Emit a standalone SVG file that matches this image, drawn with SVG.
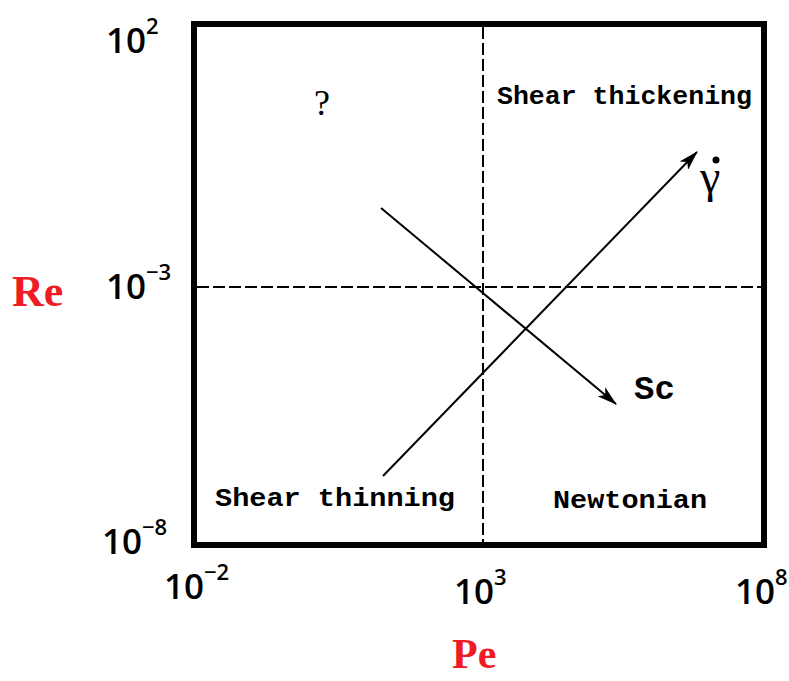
<svg xmlns="http://www.w3.org/2000/svg" width="789" height="681" viewBox="0 0 789 681">
<style>
.tick{font-family:"Open Sans","Liberation Sans",sans-serif;font-size:35px;fill:#000;font-weight:600}
.sup{font-size:22px}
.ax{font-family:"Liberation Serif",serif;font-weight:bold;fill:#ee1c24}
.reg{font-family:"Liberation Mono","Courier New",monospace;font-weight:bold;font-size:25px;fill:#000}
.dash{stroke:#000;stroke-width:2;stroke-dasharray:12,4;fill:none}
.arr{stroke:#000;stroke-width:2;fill:none;marker-end:url(#ah)}
</style>
<defs>
<marker id="ah" viewBox="0 0 20 12" refX="19" refY="6" markerWidth="20" markerHeight="12" orient="auto" markerUnits="userSpaceOnUse">
<path d="M0,0 L20,6 L0,12 L5,6 Z" fill="#000"/>
</marker>
</defs>
<rect width="789" height="681" fill="#fff"/>
<g id="frame">
<rect x="194" y="24" width="570" height="521" fill="none" stroke="#000" stroke-width="6"/>
</g>
<g id="connectors">
<line class="dash" x1="483" y1="27" x2="483" y2="542"/>
<line class="dash" x1="197" y1="287" x2="761" y2="287"/>
<line class="arr" x1="383" y1="476" x2="697" y2="152"/>
<line class="arr" x1="381" y1="208" x2="616" y2="404"/>
</g>
<g id="yticks">
<text class="tick" x="106" y="53">10<tspan class="sup" dy="-19">2</tspan></text>
<text class="tick" x="106" y="299">10<tspan class="sup" dy="-19">−3</tspan></text>
<text class="tick" x="102" y="554">10<tspan class="sup" dy="-19">−8</tspan></text>
</g>
<g id="xticks">
<text class="tick" x="164" y="599">10<tspan class="sup" dy="-19">−2</tspan></text>
<text class="tick" x="454" y="604">10<tspan class="sup" dy="-19">3</tspan></text>
<text class="tick" x="735" y="604">10<tspan class="sup" dy="-19">8</tspan></text>
</g>
<g id="axis-labels">
<text class="ax" x="12" y="306" font-size="44">Re</text>
<text class="ax" x="452" y="668" font-size="42">Pe</text>
</g>
<g id="region-question">
<text x="314" y="115" font-family="Liberation Serif,serif" font-size="36" fill="#000">?</text>
</g>
<g id="region-thickening">
<text class="reg" x="497" y="104" textLength="255" lengthAdjust="spacingAndGlyphs">Shear thickening</text>
</g>
<g id="region-thinning">
<text class="reg" x="215" y="506" textLength="240" lengthAdjust="spacingAndGlyphs">Shear thinning</text>
</g>
<g id="region-newtonian">
<text class="reg" x="553" y="508" textLength="154" lengthAdjust="spacingAndGlyphs">Newtonian</text>
</g>
<g id="label-sc">
<text x="634" y="399" font-family="Liberation Mono,monospace" font-weight="bold" font-size="34" fill="#000">Sc</text>
</g>
<g id="label-gamma">
<text x="700" y="192" font-family="Liberation Serif,serif" font-size="46" fill="#000">γ</text>
<circle cx="716" cy="160" r="3.5" fill="#000"/>
</g>
</svg>
